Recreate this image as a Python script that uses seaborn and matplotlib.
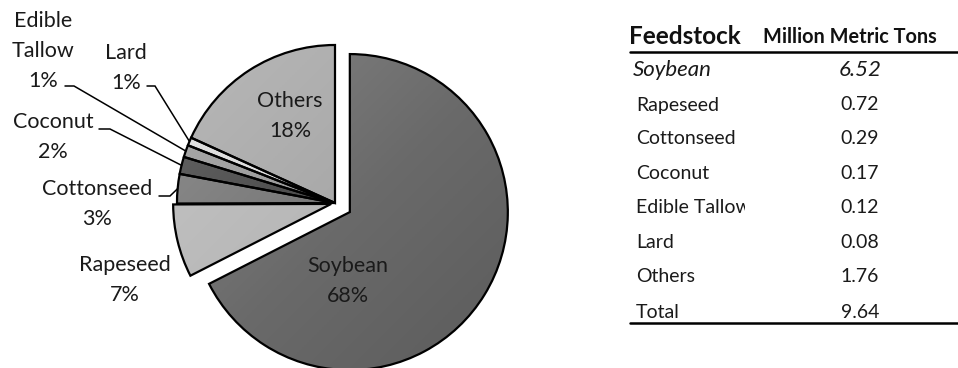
import numpy as np
import matplotlib
matplotlib.use("Agg")
import matplotlib.pyplot as plt
from matplotlib.patches import Rectangle
from matplotlib.colors import LinearSegmentedColormap, to_rgb
import seaborn as sns

# Feedstock supply (million metric tons)
feedstocks = ["Soybean", "Rapeseed", "Cottonseed", "Coconut", "Edible Tallow", "Lard", "Others"]
pie_names = ["Soybean", "Rapeseed", "Cottonseed", "Coconut", "Edible\nTallow", "Lard", "Others"]
tons = [6.52, 0.72, 0.29, 0.17, 0.12, 0.08, 1.76]
total_tons = 9.64
value_labels = ["6.52", "0.72", "0.29", "0.17", "0.12", "0.08", "1.76"]
total_label = "9.64"
table_header = ["Feedstock", "Million Metric Tons"]

wedge_colors = ["#6a6a6a", "#b8b8b8", "#787878", "#4a4a4a", "#9a9a9a", "#dcdcdc", "#a9a9a9"]

sns.set_theme(style="white")
plt.rcParams["font.family"] = ["Lato", "DejaVu Sans"]

W, H = 958, 368
fig = plt.figure(figsize=(W / 100, H / 100), dpi=100)
ax = fig.add_axes([0, 0, 1, 1])

# pie centre and radius in pixels (from the top-left corner)
cx, cy, R = 335, 203, 158


def px(x, y):
    """Pixel position (from top-left) -> data coordinates of the full-figure axes."""
    return (x - cx) / R, (cy - y) / R


wedges, _ = ax.pie(
    tons, colors=wedge_colors, startangle=90, counterclock=False,
    explode=[0.11, 0.025, 0, 0, 0, 0, 0], radius=1,
    wedgeprops=dict(edgecolor="black", linewidth=1.6),
)

# soft lighting: each wedge gets a gradient from lighter (upper left) to darker (lower right)
yy, xx = np.mgrid[1:-1:200j, -1:1:200j]
light = (-(xx) + yy) / 2.0
for w, c in zip(wedges, wedge_colors):
    base = np.array(to_rgb(c))
    lo = np.clip(base * 0.86, 0, 1)
    hi = np.clip(base + (1 - base) * 0.18, 0, 1)
    cmap = LinearSegmentedColormap.from_list("shade", [lo, base, hi])
    wx, wy = w.center
    im = ax.imshow(light, cmap=cmap, vmin=-1, vmax=1, aspect="auto", interpolation="bilinear",
                   extent=(wx - 1.05, wx + 1.05, wy - 1.05, wy + 1.05), zorder=1.5)
    im.set_clip_path(w)
    w.set_facecolor("none")
    w.set_zorder(2)

ax.set_xlim(-cx / R, (W - cx) / R)
ax.set_ylim(-(H - cy) / R, cy / R)
ax.set_aspect("auto")
ax.axis("off")

pct = [v / total_tons * 100 for v in tons]
labels = [f"{n}\n{p:.0f}%" for n, p in zip(pie_names, pct)]

label_font = dict(fontsize=15.5, color="#1a1a1a", linespacing=1.6, ha="center", va="center",
                  zorder=5)

# inside labels
for i, (x, y) in {0: (348, 281), 6: (290, 116)}.items():
    ax.text(*px(x, y), labels[i], **label_font)

# outside labels with leader lines: text centre, line start, knee
outside = {
    1: ((125, 280), None, None),
    2: ((97, 204), (159, 196), (170, 196)),
    3: ((53, 137), (99, 129), (110, 129)),
    4: ((43, 51), (65, 86), (74, 86)),
    5: ((126, 68), (147, 86), (155, 86)),
}
for i, (tpos, start, knee) in outside.items():
    ax.text(*px(*tpos), labels[i], **label_font)
    if start is None:
        continue
    w = wedges[i]
    mid = np.deg2rad((w.theta1 + w.theta2) / 2)
    cxw, cyw = w.center
    end = (cxw + np.cos(mid) * w.r, cyw + np.sin(mid) * w.r)
    p0, p1 = px(*start), px(*knee)
    ax.plot([p0[0], p1[0], end[0]], [p0[1], p1[1], end[1]], color="black", lw=1.1,
            solid_joinstyle="miter", zorder=4)

# table on the right
name_x, value_x = 636, 860
row_y = [70, 105, 139, 174, 208, 243, 277]
total_y = 312

ax.text(*px(629, 37), table_header[0], fontsize=17.5, fontweight="bold", ha="left", va="center",
        color="#111111")
ax.text(*px(850, 37), table_header[1], fontsize=14.3, fontweight="bold", ha="center", va="center",
        color="#111111")
ax.plot(*zip(px(630, 52), px(W, 52)), color="black", lw=1.8)

for i, (name, val) in enumerate(zip(feedstocks, value_labels)):
    style = "italic" if i == 0 else "normal"
    size = 16 if i == 0 else 14
    ax.text(*px(name_x - (3 if i == 0 else 0), row_y[i]), name, fontsize=size, fontstyle=style,
            ha="left", va="center", color="#1a1a1a", zorder=3)
    ax.text(*px(value_x, row_y[i]), val, fontsize=size, fontstyle=style,
            ha="center", va="center", color="#1a1a1a", zorder=3)

# the name column is cut off at its right edge
x0, y0 = px(745, 194)
x1, y1 = px(790, 224)
ax.add_patch(Rectangle((x0, y1), x1 - x0, y0 - y1, facecolor="white", edgecolor="none", zorder=4))

ax.text(*px(name_x, total_y), "Total", fontsize=14, ha="left", va="center", color="#1a1a1a")
ax.text(*px(value_x, total_y), total_label, fontsize=14, ha="center", va="center", color="#1a1a1a")
ax.plot(*zip(px(630, 323), px(W, 323)), color="black", lw=1.8)

fig.savefig("out.png", dpi=100, facecolor="white")
